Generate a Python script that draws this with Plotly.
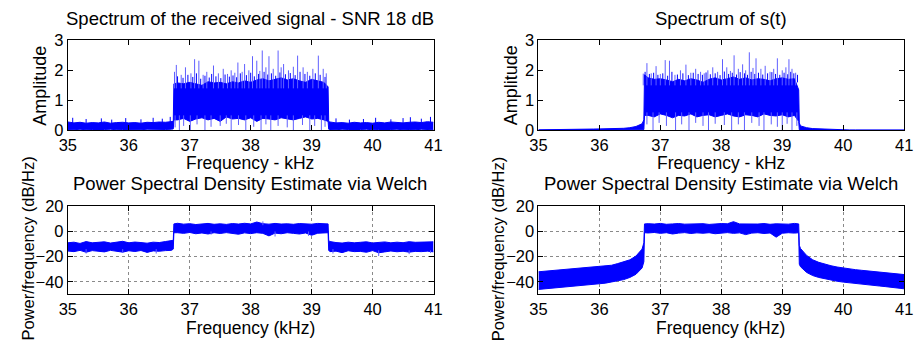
import plotly.graph_objects as go

# ---------------- data ----------------
FREQ = [35.0, 35.1, 35.2, 35.3, 35.4, 35.5, 35.6, 35.7, 35.8, 35.9, 36.0, 36.1, 36.2, 36.3, 36.4, 36.5, 36.6, 36.7,
        36.73, 36.74,
        36.8, 36.9, 37.0, 37.1, 37.2, 37.3, 37.4, 37.5, 37.6, 37.7, 37.8, 37.9, 38.0, 38.1, 38.2, 38.3, 38.4, 38.5,
        38.6, 38.7, 38.8, 38.9, 39.0, 39.1, 39.2,
        39.27, 39.28,
        39.3, 39.4, 39.5, 39.6, 39.7, 39.8, 39.9, 40.0, 40.1, 40.2, 40.3, 40.4, 40.5, 40.6, 40.7, 40.8, 40.9, 41.0]

# Spectrum of the received signal (upper / lower envelope of the dense trace)
A_HI = [0.28, 0.25, 0.27, 0.24, 0.26, 0.25, 0.28, 0.24, 0.26, 0.27, 0.25, 0.26, 0.24, 0.27, 0.26, 0.28, 0.27, 0.30,
        0.30, 1.55,
        1.58, 1.55, 1.60, 1.55, 1.50, 1.62, 1.58, 1.60, 1.55, 1.62, 1.58, 1.65, 1.60, 1.68, 1.72, 1.65, 1.70, 1.75,
        1.68, 1.72, 1.65, 1.60, 1.70, 1.65, 1.60,
        1.45, 0.30,
        0.28, 0.25, 0.26, 0.24, 0.27, 0.25, 0.26, 0.24, 0.27, 0.25, 0.28, 0.26, 0.25, 0.27, 0.28, 0.26, 0.29, 0.27]
A_LO = [0.03, 0.02, 0.04, 0.02, 0.03, 0.02, 0.03, 0.04, 0.02, 0.03, 0.02, 0.03, 0.02, 0.04, 0.03, 0.02, 0.03, 0.04,
        0.05, 0.35,
        0.35, 0.40, 0.30, 0.38, 0.42, 0.35, 0.40, 0.30, 0.45, 0.38, 0.40, 0.35, 0.42, 0.30, 0.40, 0.38, 0.35, 0.42,
        0.38, 0.35, 0.40, 0.45, 0.38, 0.40, 0.35,
        0.30, 0.04,
        0.03, 0.02, 0.04, 0.03, 0.02, 0.03, 0.04, 0.02, 0.03, 0.02, 0.03, 0.04, 0.02, 0.03, 0.02, 0.04, 0.03, 0.02]
A_SPK_F = [36.75, 36.78, 36.86, 36.93, 37.02, 37.08, 37.15, 37.22, 37.28, 37.39, 37.47, 37.55, 37.62, 37.68, 37.74,
           37.79, 37.86, 37.90, 37.97, 38.03, 38.10, 38.15, 38.19, 38.25, 38.30, 38.37, 38.45, 38.50, 38.54, 38.62,
           38.70, 38.77, 38.86, 38.93, 39.02, 39.11, 39.19, 39.24]
A_SPK_TOP = [1.95, 2.18, 1.85, 2.10, 1.90, 2.37, 2.32, 1.85, 1.95, 2.16, 1.90, 2.05, 1.88, 2.00, 1.92,
             2.26, 1.95, 2.21, 2.00, 2.47, 2.32, 1.98, 2.66, 2.10, 2.47, 2.05, 2.66, 2.10, 2.21, 2.00,
             2.12, 2.49, 2.10, 1.95, 2.05, 2.49, 2.05, 1.90]
A_SPK_BASE = 1.4
A_FR_F = [36.80, 36.89, 36.97, 37.05, 37.11, 37.18, 37.25, 37.32, 37.36, 37.43, 37.51, 37.58, 37.65, 37.71,
          37.77, 37.83, 37.93, 38.00, 38.06, 38.13, 38.22, 38.28, 38.34, 38.41, 38.48, 38.57, 38.65, 38.73,
          38.81, 38.89, 38.97, 39.06, 39.14, 39.22]
A_FR_TOP = [1.80, 1.75, 1.85, 1.78, 1.90, 1.72, 1.82, 1.76, 1.88, 1.80, 1.74, 1.86, 1.79, 1.83,
            1.77, 1.90, 1.84, 1.92, 1.80, 1.88, 1.95, 1.86, 1.90, 1.82, 1.93, 1.87, 1.91, 1.84,
            1.95, 1.88, 1.82, 1.90, 1.85, 1.78]
A_FR_BASE = 1.5
A_DIP_F = [36.76, 36.83, 36.90, 37.01, 37.12, 37.25, 37.35, 37.50, 37.60, 37.68, 37.80, 37.92, 38.05, 38.17,
           38.25, 38.33, 38.45, 38.60, 38.70, 38.85, 38.97, 39.05, 39.16, 39.22]
A_DIP_BOT = [0.10, 0.00, 0.15, 0.00, 0.20, 0.00, 0.12, 0.15, 0.22, 0.00, 0.18, 0.00, 0.12, 0.00,
             0.20, 0.00, 0.15, 0.10, 0.00, 0.18, 0.00, 0.15, 0.00, 0.12]
A_DIP_BASE = 0.5
A_NZ_F = [35.08, 35.30, 35.55, 35.72, 35.95, 36.20, 36.40, 36.55, 36.68,
          39.40, 39.62, 39.85, 40.05, 40.30, 40.50, 40.62, 40.80, 40.95]
A_NZ_TOP = [0.42, 0.38, 0.40, 0.36, 0.41, 0.37, 0.42, 0.39, 0.45,
            0.40, 0.36, 0.38, 0.42, 0.37, 0.41, 0.44, 0.39, 0.45]
A_NZ_BASE = 0.15

# Spectrum of s(t)
B_HI = [0.02, 0.02, 0.02, 0.025, 0.035, 0.04, 0.04, 0.04, 0.045, 0.045, 0.05, 0.05, 0.055, 0.06, 0.07, 0.09, 0.13, 0.22,
        0.35, 1.85,
        1.75, 1.70, 1.72, 1.68, 1.62, 1.70, 1.65, 1.72, 1.68, 1.60, 1.70, 1.75, 1.68, 1.72, 1.78, 1.70, 1.75, 1.68,
        1.72, 1.70, 1.65, 1.72, 1.75, 1.70, 1.72,
        1.35, 0.25,
        0.15, 0.09, 0.06, 0.05, 0.04, 0.03, 0.02, 0.015, 0.015, 0.015, 0.015, 0.015, 0.015, 0.015, 0.015, 0.015,
        0.015, 0.015]
B_LO = [0.0, 0.0, 0.0, 0.0, 0.0, 0.0, 0.0, 0.0, 0.0, 0.0, 0.0, 0.0, 0.0, 0.0, 0.0, 0.0, 0.01, 0.02,
        0.03, 0.50,
        0.50, 0.45, 0.55, 0.50, 0.42, 0.50, 0.48, 0.55, 0.45, 0.50, 0.52, 0.45, 0.50, 0.55, 0.48, 0.45, 0.52, 0.50,
        0.45, 0.55, 0.50, 0.48, 0.52, 0.45, 0.50,
        0.30, 0.02,
        0.01, 0.0, 0.0, 0.0, 0.0, 0.0, 0.0, 0.0, 0.0, 0.0, 0.0, 0.0, 0.0, 0.0, 0.0, 0.0, 0.0, 0.0]
B_SPK_F = [36.72, 36.78, 36.85, 36.93, 37.00, 37.08, 37.15, 37.24, 37.33, 37.42, 37.50, 37.58, 37.66, 37.72,
           37.78, 37.86, 37.94, 38.02, 38.09, 38.15, 38.21, 38.28, 38.35, 38.40, 38.46, 38.52, 38.57, 38.65,
           38.72, 38.80, 38.86, 38.92, 39.00, 39.06, 39.11, 39.16, 39.22]
B_SPK_TOP = [1.89, 2.24, 1.90, 2.14, 1.88, 2.34, 2.32, 1.85, 2.00, 2.19, 1.92, 2.05, 1.95, 1.90,
             2.00, 2.10, 1.95, 2.37, 2.10, 1.98, 2.50, 2.05, 2.20, 2.00, 2.60, 2.08, 2.40, 2.05,
             2.15, 1.95, 2.05, 2.40, 2.00, 2.10, 2.37, 2.05, 1.92]
B_SPK_BASE = 1.5
B_FR_F = [36.75, 36.82, 36.89, 36.96, 37.04, 37.12, 37.19, 37.28, 37.37, 37.46, 37.54, 37.62, 37.69, 37.75,
          37.82, 37.90, 37.98, 38.05, 38.12, 38.18, 38.25, 38.31, 38.38, 38.43, 38.49, 38.55, 38.61, 38.68,
          38.76, 38.83, 38.89, 38.96, 39.03, 39.09, 39.14, 39.19, 39.25]
B_FR_TOP = [1.95, 1.88, 1.92, 1.85, 1.90, 1.82, 1.95, 1.86, 1.90, 1.84, 1.92, 1.88, 1.85, 1.93,
            1.87, 1.90, 1.84, 1.96, 1.88, 1.92, 1.86, 1.94, 1.90, 1.85, 1.95, 1.88, 1.92, 1.86,
            1.90, 1.94, 1.88, 1.85, 1.92, 1.87, 1.95, 1.90, 1.85]
B_FR_BASE = 1.6
B_DIP_F = [36.78, 36.88, 36.98, 37.10, 37.25, 37.35, 37.47, 37.58, 37.70, 37.79, 37.90, 38.05, 38.17, 38.28,
           38.38, 38.50, 38.62, 38.70, 38.82, 38.92, 39.00, 39.08, 39.16, 39.24]
B_DIP_BOT = [0.20, 0.00, 0.25, 0.15, 0.00, 0.20, 0.00, 0.25, 0.15, 0.00, 0.22, 0.18, 0.00, 0.20,
             0.00, 0.25, 0.15, 0.00, 0.20, 0.12, 0.00, 0.22, 0.00, 0.15]
B_DIP_BASE = 0.6

# Welch PSD of the received signal (dB/Hz)
C_HI = [-9.0, -8.5, -9.5, -8.0, -9.0, -8.8, -8.2, -9.2, -8.6, -7.8, -9.0, -8.4, -8.8, -9.3, -8.5, -8.8, -8.0, -7.5,
        -7.0, 6.0,
        6.5, 5.8, 6.2, 5.5, 6.0, 6.4, 5.7, 6.1, 5.6, 6.3, 5.9, 6.5, 6.0, 7.5, 6.2, 5.8, 6.4, 5.9,
        6.1, 5.7, 6.3, 6.0, 5.8, 6.4, 6.5,
        6.0, -7.0,
        -8.0, -8.8, -9.2, -8.5, -9.0, -8.6, -8.2, -9.1, -8.7, -8.3, -9.0, -8.5, -8.9, -8.1, -8.6, -8.4, -8.8, -8.2]
C_LO = [-15.5, -16.0, -15.0, -16.5, -15.2, -15.8, -16.2, -15.0, -15.6, -16.4, -15.3, -15.9, -15.1, -16.6, -15.4,
        -15.7, -15.2, -15.0,
        -14.0, -1.0,
        -1.0, -1.5, -0.8, -1.8, -1.2, -2.0, -1.0, -1.6, -0.9, -1.4, -2.2, -1.1, -1.7, -1.0, -1.5, -3.5, -1.3, -1.8,
        -1.0, -1.5, -2.0, -1.2, -3.0, -1.4, -1.0,
        -1.0, -15.0,
        -16.0, -15.6, -16.8, -15.3, -16.0, -15.8, -16.5, -15.2, -16.9, -16.2, -15.5, -16.1, -15.7, -16.4, -15.8,
        -16.0, -15.6, -16.2]
C_OUT_F = [35.30, 35.90, 36.45, 37.35, 38.20, 38.40, 38.95, 39.35, 40.10, 40.60, 40.95]
C_OUT_V = [-17.5, -17.0, -17.5, -2.5, 8.0, -4.0, -3.5, -17.5, -19.5, -18.0, -17.0]
C_OUT_BASE = [-14.0, -14.0, -14.0, 0.0, 5.0, 0.0, 0.0, -14.0, -15.0, -15.0, -15.0]

# Welch PSD of s(t) (dB/Hz)
D_HI = [-32.0, -31.6, -31.3, -30.9, -30.5, -30.1, -29.7, -29.3, -28.9, -28.5, -28.0, -27.5, -26.8, -25.5, -24.2,
        -22.5, -19.5, -14.0,
        -9.0, 6.0,
        6.2, 5.9, 6.4, 5.7, 6.0, 6.3, 5.8, 6.1, 5.9, 6.2, 5.6, 6.0, 6.3, 6.1, 7.8, 6.0, 5.8, 6.2,
        5.9, 6.3, 5.7, 6.1, 6.0, 5.8, 6.4,
        6.0, -11.0,
        -13.5, -19.0, -22.5, -24.5, -26.0, -27.2, -28.2, -29.0, -29.7, -30.3, -30.8, -31.3, -31.8, -32.3, -32.8,
        -33.3, -33.8, -34.2]
D_LO = [-46.0, -45.6, -45.2, -44.8, -44.4, -44.0, -43.5, -43.0, -42.5, -42.0, -41.5, -41.0, -40.2, -39.3, -38.2,
        -36.5, -34.0, -29.0,
        -24.0, -1.0,
        -1.2, -0.8, -1.5, -1.0, -2.0, -1.3, -0.9, -1.6, -1.1, -1.4, -1.0, -1.8, -1.2, -0.9, -1.5, -1.1, -2.5, -1.3,
        -1.0, -1.6, -1.2, -4.5, -1.4, -1.0, -1.3,
        -1.0, -26.0,
        -28.0, -32.5, -35.0, -36.5, -37.7, -38.7, -39.5, -40.2, -40.8, -41.3, -41.8, -42.3, -42.8, -43.3, -43.8,
        -44.3, -44.9, -45.5]

X_TICKS = [35, 36, 37, 38, 39, 40, 41]
AMP_TICKS = [0, 1, 2, 3]
PSD_TICKS = [-40, -20, 0, 20]

TITLES = ["Spectrum of the received signal - SNR 18 dB", "Spectrum of s(t)",
          "Power Spectral Density Estimate via Welch", "Power Spectral Density Estimate via Welch"]
XLABELS = ["Frequency - kHz", "Frequency - kHz", "Frequency (kHz)", "Frequency (kHz)"]
YLABELS = ["Amplitude", "Amplitude", "Power/frequency (dB/Hz)", "Power/frequency (dB/Hz)"]

# ---------------- style ----------------
BLUE = "rgb(0,0,255)"
LIGHT = "rgb(95,95,255)"
FONT = "Liberation Sans, Arial, Helvetica, sans-serif"
W, H = 920, 349

fig = go.Figure()


def axn(ax):
    return ("x" if ax == 1 else f"x{ax}"), ("y" if ax == 1 else f"y{ax}")


def band(lo, hi, ax):
    xa, ya = axn(ax)
    fig.add_trace(go.Scatter(x=FREQ, y=lo, mode="lines", line=dict(color=BLUE, width=1),
                             xaxis=xa, yaxis=ya, showlegend=False, hoverinfo="skip"))
    fig.add_trace(go.Scatter(x=FREQ, y=hi, mode="lines", line=dict(color=BLUE, width=1),
                             fill="tonexty", fillcolor=BLUE,
                             xaxis=xa, yaxis=ya, showlegend=False, hoverinfo="skip"))


def spikes(fs, ends, bases, ax, color=LIGHT):
    xa, ya = axn(ax)
    xs, ys = [], []
    for i, f in enumerate(fs):
        b = bases[i] if isinstance(bases, list) else bases
        xs += [f, f, None]
        ys += [b, ends[i], None]
    fig.add_trace(go.Scatter(x=xs, y=ys, mode="lines", line=dict(color=color, width=1),
                             xaxis=xa, yaxis=ya, showlegend=False, hoverinfo="skip"))


band(A_LO, A_HI, 1)
spikes(A_FR_F, A_FR_TOP, A_FR_BASE, 1, BLUE)
spikes(A_SPK_F, A_SPK_TOP, A_SPK_BASE, 1)
spikes(A_DIP_F, A_DIP_BOT, A_DIP_BASE, 1)
spikes(A_NZ_F, A_NZ_TOP, A_NZ_BASE, 1, BLUE)

band(B_LO, B_HI, 2)
spikes(B_FR_F, B_FR_TOP, B_FR_BASE, 2, BLUE)
spikes(B_SPK_F, B_SPK_TOP, B_SPK_BASE, 2)
spikes(B_DIP_F, B_DIP_BOT, B_DIP_BASE, 2)

band(C_LO, C_HI, 3)
spikes(C_OUT_F, C_OUT_V, C_OUT_BASE, 3)

band(D_LO, D_HI, 4)

# pixel geometry of the axes boxes
LEFT_X = (60, 433)
RIGHT_X = (540, 913)
TOP_Y = (33, 128)
BOT_Y = (208, 301)


def xd(px):
    return [px[0] / W, px[1] / W]


def yd(py):
    return [1 - py[1] / H, 1 - py[0] / H]


common_ax = dict(showline=True, linecolor="black", linewidth=1, mirror="ticks", ticks="inside", ticklen=5,
                 tickcolor="black", tickfont=dict(family=FONT, size=16.5, color="black"), zeroline=False)

layout_axes = {}
specs = [(1, LEFT_X, TOP_Y, [0, 3], AMP_TICKS, False),
         (2, RIGHT_X, TOP_Y, [0, 3], AMP_TICKS, False),
         (3, LEFT_X, BOT_Y, [-50, 20], PSD_TICKS, True),
         (4, RIGHT_X, BOT_Y, [-50, 20], PSD_TICKS, True)]
for i, xp, yp, yr, yt, grid in specs:
    sx = "" if i == 1 else str(i)
    layout_axes[f"xaxis{sx}"] = dict(common_ax, domain=xd(xp), range=[35, 41], tickvals=X_TICKS,
                                     anchor=f"y{sx}", showgrid=grid, gridcolor="#8a8a8a", griddash="dot",
                                     gridwidth=1)
    layout_axes[f"yaxis{sx}"] = dict(common_ax, domain=yd(yp), range=yr, tickvals=yt,
                                     anchor=f"x{sx}", showgrid=grid, gridcolor="#8a8a8a", griddash="dot",
                                     gridwidth=1)

fig.update_layout(width=W, height=H, margin=dict(l=0, r=0, t=0, b=0), plot_bgcolor="white",
                  paper_bgcolor="white", **layout_axes)

ann = []
# titles
for txt, cx, cy in [(TITLES[0], 246, 10.5), (TITLES[1], 726, 10.5), (TITLES[2], 246, 184), (TITLES[3], 726, 184)]:
    ann.append(dict(text=txt, x=cx / W, y=1 - cy / H, xref="paper", yref="paper", showarrow=False,
                    xanchor="center", yanchor="middle", font=dict(family=FONT, size=18.5, color="black")))
# x labels
for txt, cx, cy in [(XLABELS[0], 246, 162.5), (XLABELS[1], 726, 162.5), (XLABELS[2], 246, 336), (XLABELS[3], 726, 336)]:
    ann.append(dict(text=txt, x=cx / W, y=1 - cy / H, xref="paper", yref="paper", showarrow=False,
                    xanchor="center", yanchor="middle", font=dict(family=FONT, size=17.5, color="black")))
# y labels
for txt, cx, cy, fs in [(YLABELS[0], 32, 80.5, 18), (YLABELS[1], 512, 80.5, 18),
                        (YLABELS[2], 19, 253, 16.5), (YLABELS[3], 499, 253, 16.5)]:
    ann.append(dict(text=txt, x=cx / W, y=1 - cy / H, xref="paper", yref="paper", showarrow=False,
                    textangle=-90, xanchor="center", yanchor="middle",
                    font=dict(family=FONT, size=fs, color="black")))
fig.update_layout(annotations=ann)

fig.write_html("out.html")
